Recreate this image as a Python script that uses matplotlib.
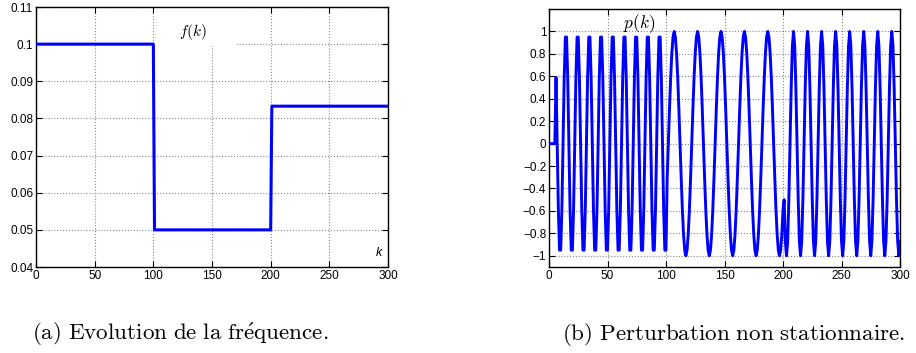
import numpy as np
import matplotlib
matplotlib.use("Agg")
import matplotlib.pyplot as plt
from matplotlib.patches import Rectangle

plt.rcParams['font.family'] = ['Liberation Sans', 'DejaVu Sans']
plt.rcParams['mathtext.fontset'] = 'cm'

# f(k): frequency steps
f_k = [0, 100, 101, 200, 201, 300]
f_vals = [0.1, 0.1, 0.05, 0.05, 0.0833, 0.0833]

# p(k): sampled perturbation, k = 0..300
p_seg1 = [0, 0, 0, 0, 0, 0,
          0.59, 0, -0.59, -0.95, -0.95, -0.59, 0, 0.59, 0.95, 0.95,
          0.59, 0, -0.59, -0.95, -0.95, -0.59, 0, 0.59, 0.95, 0.95,
          0.59, 0, -0.59, -0.95, -0.95, -0.59, 0, 0.59, 0.95, 0.95,
          0.59, 0, -0.59, -0.95, -0.95, -0.59, 0, 0.59, 0.95, 0.95,
          0.59, 0, -0.59, -0.95, -0.95, -0.59, 0, 0.59, 0.95, 0.95,
          0.59, 0, -0.59, -0.95, -0.95, -0.59, 0, 0.59, 0.95, 0.95,
          0.59, 0, -0.59, -0.95, -0.95, -0.59, 0, 0.59, 0.95, 0.95,
          0.59, 0, -0.59, -0.95, -0.95, -0.59, 0, 0.59, 0.95, 0.95,
          0.59, 0, -0.59, -0.95, -0.95, -0.59, 0, 0.59, 0.95, 0.95,
          0.59, 0, -0.59, -0.95, -0.95]
p_seg2 = [-0.31, 0, 0.31, 0.59, 0.81, 0.95, 1, 0.95, 0.81, 0.59, 0.31, 0, -0.31, -0.59, -0.81, -0.95, -1, -0.95, -0.81, -0.59,
          -0.31, 0, 0.31, 0.59, 0.81, 0.95, 1, 0.95, 0.81, 0.59, 0.31, 0, -0.31, -0.59, -0.81, -0.95, -1, -0.95, -0.81, -0.59,
          -0.31, 0, 0.31, 0.59, 0.81, 0.95, 1, 0.95, 0.81, 0.59, 0.31, 0, -0.31, -0.59, -0.81, -0.95, -1, -0.95, -0.81, -0.59,
          -0.31, 0, 0.31, 0.59, 0.81, 0.95, 1, 0.95, 0.81, 0.59, 0.31, 0, -0.31, -0.59, -0.81, -0.95, -1, -0.95, -0.81, -0.59,
          -0.31, 0, 0.31, 0.59, 0.81, 0.95, 1, 0.95, 0.81, 0.59, 0.31, 0, -0.31, -0.59, -0.81, -0.95, -1, -0.95, -0.81, -0.59]
p_seg3 = [-0.5, -0.87, -1, -0.87, -0.5, 0, 0.5, 0.87, 1, 0.87, 0.5, 0,
          -0.5, -0.87, -1, -0.87, -0.5, 0, 0.5, 0.87, 1, 0.87, 0.5, 0,
          -0.5, -0.87, -1, -0.87, -0.5, 0, 0.5, 0.87, 1, 0.87, 0.5, 0,
          -0.5, -0.87, -1, -0.87, -0.5, 0, 0.5, 0.87, 1, 0.87, 0.5, 0,
          -0.5, -0.87, -1, -0.87, -0.5, 0, 0.5, 0.87, 1, 0.87, 0.5, 0,
          -0.5, -0.87, -1, -0.87, -0.5, 0, 0.5, 0.87, 1, 0.87, 0.5, 0,
          -0.5, -0.87, -1, -0.87, -0.5, 0, 0.5, 0.87, 1, 0.87, 0.5, 0,
          -0.5, -0.87, -1, -0.87, -0.5, 0, 0.5, 0.87, 1, 0.87, 0.5, 0,
          -0.5, -0.87, -1, -0.87]
p_vals = p_seg1 + p_seg2 + p_seg3
p_k = np.arange(len(p_vals))

x_ticks = [0, 50, 100, 150, 200, 250, 300]
f_ticks = [0.04, 0.05, 0.06, 0.07, 0.08, 0.09, 0.1, 0.11]
f_ticklabels = ['0.04', '0.05', '0.06', '0.07', '0.08', '0.09', '0.1', '0.11']
p_ticks = [-1, -0.8, -0.6, -0.4, -0.2, 0, 0.2, 0.4, 0.6, 0.8, 1]
p_ticklabels = ['\u22121', '\u22120.8', '\u22120.6', '\u22120.4', '\u22120.2', '0',
                '0.2', '0.4', '0.6', '0.8', '1']

W, H = 916, 353
fig = plt.figure(figsize=(W / 100, H / 100), dpi=100)
ax1 = fig.add_axes([36 / W, 1 - 267 / H, 352 / W, 260 / H])
ax2 = fig.add_axes([549 / W, 1 - 267 / H, 351 / W, 258 / H])


def style(ax):
    ax.set_axisbelow(True)
    ax.grid(True, linestyle=':', color='#888888', linewidth=0.8)
    ax.tick_params(direction='in', length=4, width=0.8, labelsize=8.5,
                   top=True, right=True, pad=2, colors='black')
    for s in ax.spines.values():
        s.set_linewidth(1.0)
    ax.set_xlim(0, 300)
    ax.set_xticks(x_ticks)


# (a) frequency
ax1.plot(f_k, f_vals, color='blue', linewidth=2.2, zorder=3)
ax1.set_ylim(0.04, 0.11)
ax1.set_yticks(f_ticks)
ax1.set_yticklabels(f_ticklabels)
style(ax1)
ax1.add_patch(Rectangle((100.5, 0.0996), 69, 0.0104, facecolor='white',
                        edgecolor='none', zorder=1))
ax1.text(134, 0.1033, r'$f(k)$', fontsize=11, ha='center', va='center', zorder=4)
ax1.text(292, 0.0438, 'k', fontsize=9, style='italic', ha='center', va='center')

# (b) perturbation
ax2.plot(p_k, p_vals, color='blue', linewidth=2.1, zorder=3)
ax2.set_ylim(-1.1, 1.2)
ax2.set_yticks(p_ticks)
ax2.set_yticklabels(p_ticklabels)
style(ax2)
ax2.text(77, 1.07, r'$p(k)$', fontsize=12.5, ha='center', va='center', zorder=4)

fig.text(32 / W, 1 - 340 / H, r'$\mathrm{(a)\ Evolution\ de\ la\ fr\acute{e}quence.}$',
         fontsize=16.6, ha='left', va='baseline')
fig.text(562 / W, 1 - 340 / H, r'$\mathrm{(b)\ Perturbation\ non\ stationnaire.}$',
         fontsize=16.6, ha='left', va='baseline')

fig.savefig('out.png', dpi=100)
